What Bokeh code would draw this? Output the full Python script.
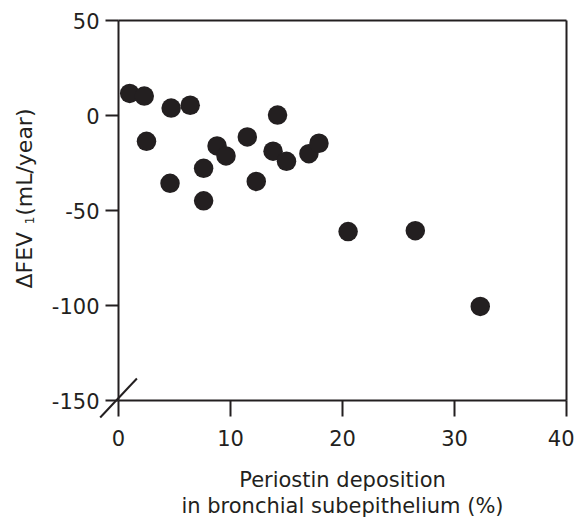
import math
from bokeh.plotting import figure
from bokeh.models import Range1d, FixedTicker, Label, Arrow, ColumnDataSource, LinearAxis
from bokeh.embed import file_html
from bokeh.resources import INLINE

# Data
periostin = [1.0, 2.3, 4.7, 6.4, 2.5, 14.2, 11.5, 8.8, 9.6, 13.8,
             15.0, 17.0, 17.9, 7.6, 4.6, 12.3, 7.6, 20.5, 26.5, 32.3]
delta_fev1 = [11.6, 10.2, 3.9, 5.4, -13.6, 0.2, -11.3, -16.0, -21.3, -18.8,
              -24.1, -20.1, -14.6, -27.8, -35.7, -34.7, -44.9, -61.1, -60.6, -100.5]

x_ticks = [0, 10, 20, 30, 40]
x_tick_labels = ["0", "10", "20", "30", "40"]
y_ticks = [-150, -100, -50, 0, 50]
y_tick_labels = ["-150", "-100", "-50", "0", "50"]

x_label_lines = ["Periostin deposition", "in bronchial subepithelium (%)"]
y_label_main = "\u0394FEV"
y_label_sub = "1"
y_label_rest = "(mL/year)"

INK = "#231f20"
FONT = "DejaVu Sans"

W, H = 574, 519
# pixel box of the plotting area inside the canvas
L, R, T, B = 118, 8, 20, 119
box_w = W - L - R
box_h = H - T - B

xmin, xmax = x_ticks[0], x_ticks[-1]
ymin, ymax = y_ticks[0], y_ticks[-1]
sx = (xmax - xmin) / box_w
sy = (ymax - ymin) / box_h

p = figure(width=W, height=H, output_backend="svg", toolbar_location=None,
           x_range=Range1d(xmin - L * sx, xmax + R * sx),
           y_range=Range1d(ymin - B * sy, ymax + T * sy),
           min_border=0)
p.grid.visible = False
p.background_fill_color = "white"
p.border_fill_color = "white"
p.outline_line_color = None

src = ColumnDataSource(dict(x=periostin, y=delta_fev1))
p.scatter("x", "y", source=src, size=19.5, fill_color=INK, line_color=INK, line_width=0)

def style(ax):
    ax.axis_line_color = INK
    ax.axis_line_width = 2
    ax.major_tick_line_color = INK
    ax.major_tick_line_width = 2
    ax.major_tick_in = 0
    ax.minor_tick_line_color = None
    ax.major_label_text_font = FONT
    ax.major_label_text_font_size = "21px"
    ax.major_label_text_color = INK

xa = p.xaxis[0]
style(xa)
xa.fixed_location = ymin
xa.bounds = (xmin, xmax)
xa.ticker = FixedTicker(ticks=x_ticks)
xa.major_label_overrides = dict(zip(x_ticks, x_tick_labels))
xa.major_tick_out = 16
xa.major_label_standoff = 13

ya = p.yaxis[0]
style(ya)
ya.fixed_location = xmin
ya.bounds = (ymin, ymax)
ya.ticker = FixedTicker(ticks=y_ticks)
ya.major_label_overrides = dict(zip(y_ticks, y_tick_labels))
ya.major_tick_out = 13
ya.major_label_standoff = 6

# top and right frame lines
top = LinearAxis(fixed_location=ymax, bounds=(xmin, xmax), ticker=FixedTicker(ticks=[]),
                 axis_line_color=INK, axis_line_width=2, major_tick_line_color=None,
                 minor_tick_line_color=None, major_label_text_font_size="0px")
right = LinearAxis(fixed_location=xmax, bounds=(ymin, ymax), ticker=FixedTicker(ticks=[]),
                   axis_line_color=INK, axis_line_width=2, major_tick_line_color=None,
                   minor_tick_line_color=None, major_label_text_font_size="0px")
p.add_layout(top, "above")
p.add_layout(right, "right")

x_mid = (xmin + xmax) / 2

def lab(text, x, y, dx, dy, size, align, angle=0.0, baseline="alphabetic"):
    p.add_layout(Label(x=x, y=y, x_offset=dx, y_offset=dy, text=text,
                       text_font=FONT, text_font_size=size, text_color=INK,
                       text_align=align, text_baseline=baseline, angle=angle))

# x-axis label (two lines)
lab(x_label_lines[0], x_mid, ymin, 0, -79, "21px", "center")
lab(x_label_lines[1], x_mid, ymin, 0, -105, "21px", "center")

# y-axis label, rotated, with subscript
lab(y_label_main, xmin, ymin, -94, 112, "22px", "left", angle=math.pi / 2)
lab(y_label_sub, xmin, ymin, -89, 180, "12px", "center", angle=math.pi / 2)
lab(y_label_rest, xmin, ymin, -94, 292, "22px", "right", angle=math.pi / 2)

# axis break mark through the bottom-left corner
p.add_layout(Arrow(end=None, x_start=xmin - 18.3 * sx, y_start=ymin - 17 * sy,
                   x_end=xmin + 18.4 * sx, y_end=ymin + 22 * sy,
                   line_color=INK, line_width=2))

open("out.html", "w").write(file_html(p, INLINE))
